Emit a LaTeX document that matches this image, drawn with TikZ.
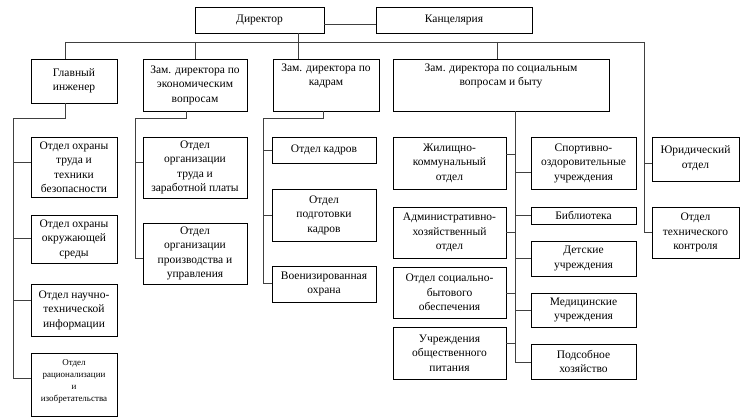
\documentclass[tikz,border=0pt]{standalone}
\usepackage{fontspec}
\setmainfont{Liberation Serif}
\begin{document}
\begin{tikzpicture}[x=1pt,y=-1pt,
  box/.style={draw=black, line width=0.9pt, inner sep=1pt, align=center,
    font=\fontsize{11.5}{14.5}\selectfont},
  toptext/.style={anchor=north, inner sep=0pt, align=center, yshift=-5pt,
    font=\fontsize{11.5}{14.5}\selectfont},
  conn/.style={draw=black!75, line width=0.9pt}]
\useasboundingbox (0,0) rectangle (745,420);
\newcommand\bx[6]{\node[box, minimum width={(#4-#2)*1pt}, minimum height={(#5-#3)*1pt}] (#1) at ({(#2+#4)/2},{(#3+#5)/2}) {#6};}
% top
\bx{dir}{195}{7}{324}{33}{Директор}
\bx{kanc}{376}{7}{532}{33}{Канцелярия}
% second row
\bx{gi}{31}{59}{117}{103}{Главный\\инженер}
\bx{ze}{143}{59}{247}{111}{Зам. директора по\\экономическим\\вопросам}
\bx{zk}{273}{59}{379}{111}{}
\node[toptext] (zkt) at (zk.north) {Зам. директора по\\кадрам};
\bx{zs}{393}{59}{609}{111}{}
\node[toptext] (zst) at (zs.north) {Зам. директора по социальным\\вопросам и быту};
% left column
\bx{o1}{31}{137}{117}{197}{Отдел охраны\\труда и\\техники\\безопасности}
\bx{o2}{31}{215}{117}{263}{Отдел охраны\\окружающей\\среды}
\bx{o3}{31}{284}{117}{336}{Отдел научно-\\технической\\информации}
\bx{o4}{31}{353}{117}{416}{}
\node[toptext, font=\fontsize{9}{12}\selectfont, yshift=-2pt] (o4t) at (o4.north) {Отдел\\рационализации\\и\\изобретательства};
% econ column
\bx{e1}{143}{137}{247}{198}{Отдел\\организации\\труда и\\заработной платы}
\bx{e2}{143}{223}{247}{284}{Отдел\\организации\\производства и\\управления}
% kadr column
\bx{k1}{272}{137}{376}{163}{Отдел кадров}
\bx{k2}{272}{189}{376}{241}{Отдел\\подготовки\\кадров}
\bx{k3}{272}{266}{376}{302}{Военизированная\\охрана}
% soc left
\bx{s1}{393}{137}{506}{189}{Жилищно-\\коммунальный\\отдел}
\bx{s2}{393}{207}{506}{258}{Административно-\\хозяйственный\\отдел}
\bx{s3}{393}{267}{506}{318}{Отдел социально-\\бытового\\обеспечения}
\bx{s4}{393}{327}{506}{379}{Учреждения\\общественного\\питания}
% soc right
\bx{r1}{531}{137}{636}{189}{Спортивно-\\оздоровительные\\учреждения}
\bx{r2}{531}{207}{636}{224}{Библиотека}
\bx{r3}{531}{241}{636}{276}{Детские\\учреждения}
\bx{r4}{531}{293}{636}{327}{Медицинские\\учреждения}
\bx{r5}{531}{344}{636}{379}{Подсобное\\хозяйство}
% far right
\bx{jur}{652}{137}{739}{181}{}
\node[toptext, yshift=-4pt] (jurt) at (jur.north) {Юридический\\отдел};
\bx{tk}{652}{207}{739}{258}{Отдел\\технического\\контроля}
% connectors
\coordinate (busL) at (65,42);
\coordinate (busR) at (644,42);
\coordinate (d2) at (195,42);
\coordinate (d3) at (298,42);
\coordinate (d4) at (497,42);
\draw[conn] ([yshift=-4pt]dir.east) -- ([yshift=-4pt]kanc.west);
\draw[conn] (busL) -- (busR);
\draw[conn] (busL) -- (busL |- gi.north);
\draw[conn] (d2) -- (d2 |- ze.north);
\draw[conn] (d3 |- dir.south) -- (d3 |- zk.north);
\draw[conn] (d4) -- (d4 |- zs.north);
\draw[conn] (busR) -- (busR |- tk.west);
\draw[conn] (busR |- 0,163) -- (jur.west |- 0,163);
\draw[conn] (busR |- tk.west) -- (tk.west);
% chief engineer
\coordinate (g1) at (65,118);
\coordinate (g2) at (13,118);
\draw[conn] (g1 |- gi.south) -- (g1) -- (g2) -- (g2 |- 0,378);
\draw[conn] (g2 |- 0,162) -- (o1.west |- 0,162);
\draw[conn] (g2 |- 0,238) -- (o2.west |- 0,238);
\draw[conn] (g2 |- 0,300) -- (o3.west |- 0,300);
\draw[conn] (g2 |- 0,378) -- (o4.west |- 0,378);
% econ
\coordinate (e1c) at (186,118);
\coordinate (e2c) at (135,118);
\draw[conn] (e1c |- ze.south) -- (e1c) -- (e2c) -- (e2c |- 0,258);
\draw[conn] (e2c |- 0,162) -- (e1.west |- 0,162);
\draw[conn] (e2c |- 0,258) -- (e2.west |- 0,258);
% kadr
\coordinate (k1c) at (323,118);
\coordinate (k2c) at (263,118);
\draw[conn] (k1c |- zk.south) -- (k1c) -- (k2c) -- (k2c |- 0,283);
\draw[conn] (k2c |- 0,150) -- (k1.west |- 0,150);
\draw[conn] (k2c |- 0,215) -- (k2.west |- 0,215);
\draw[conn] (k2c |- 0,283) -- (k3.west |- 0,283);
% soc
\coordinate (sc) at (515,111);
\draw[conn] (sc |- zs.south) -- (sc |- 0,362);
\draw[conn] (s1.east |- 0,154) -- (sc |- 0,154);
\draw[conn] (s2.east |- 0,232) -- (sc |- 0,232);
\draw[conn] (s3.east |- 0,293) -- (sc |- 0,293);
\draw[conn] (s4.east |- 0,343) -- (sc |- 0,343);
\draw[conn] (sc |- 0,172) -- (r1.west |- 0,172);
\draw[conn] (sc |- 0,215) -- (r2.west |- 0,215);
\draw[conn] (sc |- 0,258) -- (r3.west |- 0,258);
\draw[conn] (sc |- 0,310) -- (r4.west |- 0,310);
\draw[conn] (sc |- 0,362) -- (r5.west |- 0,362);
\end{tikzpicture}
\end{document}
